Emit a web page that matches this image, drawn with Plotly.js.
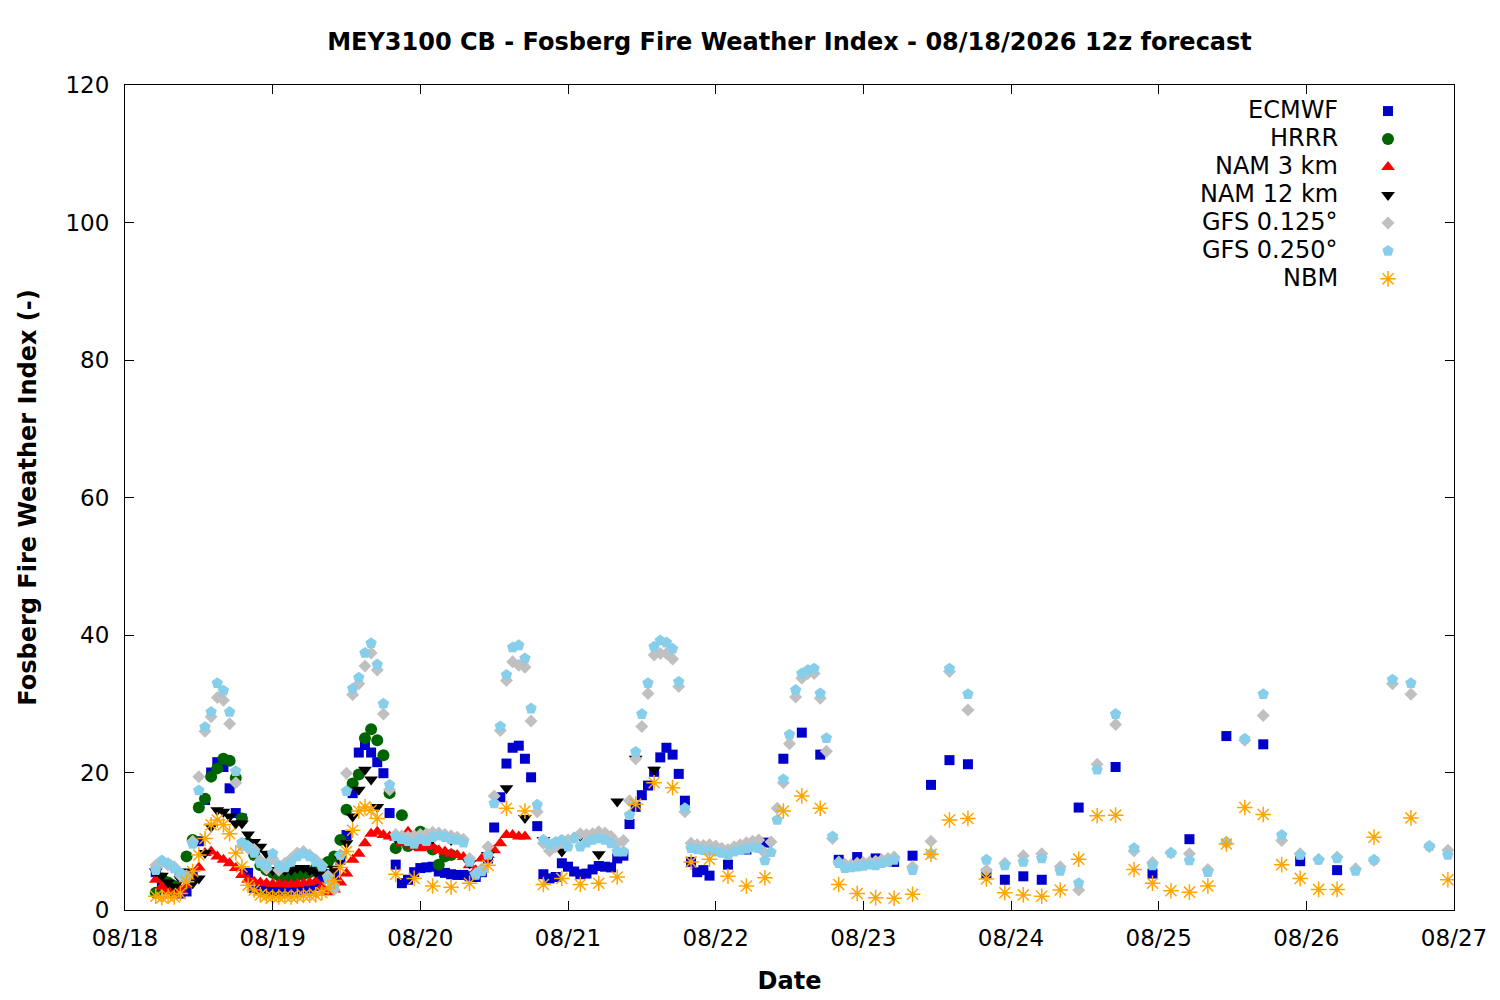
<!DOCTYPE html>
<html>
<head>
<meta charset="utf-8">
<script src="https://cdn.plot.ly/plotly-3.0.1.min.js"></script>
<style>
  html, body { margin: 0; padding: 0; background: #fff; }
  #plot { width: 1500px; height: 1000px; }
</style>
</head>
<body>
<div id="plot"></div>
<script>
// hours are local hours since 08/18 00:00 (12z run = 05 local)
function span(a, b, step) {
  const out = []
  for (let h = a; h <= b; h += step) out.push(h)
  return out
}

const ecmwfHours = span(5, 95, 1).concat(span(98, 149, 3), span(155, 197, 6))
const ecmwfValues = [
  5.5, 4.0, 3.0, 2.5, 2.4, 2.7, 5.0, 10.0, 16.0, 20.0, 21.5, 20.8,
  17.7, 14.1, 13.3, 5.4, 3.2, 3.0, 2.9, 2.8, 2.8, 2.8, 2.9, 2.9,
  3.0, 3.1, 3.5, 4.6, 5.0, 5.1, 7.3, 10.9, 17.0, 22.9, 24.0, 22.9,
  21.5, 19.9, 14.1, 6.6, 3.9, 4.4, 5.5, 6.1, 6.2, 6.3, 5.6, 5.4,
  5.2, 5.1, 5.1, 4.9, 4.8, 5.5, 7.5, 12.0, 16.4, 21.3, 23.6, 23.9,
  22.0, 19.3, 12.2, 5.2, 4.6, 4.8, 6.8, 6.3, 5.6, 5.2, 5.3, 5.9,
  6.4, 6.3, 6.2, 7.5, 7.9, 12.5, 15.0, 16.7, 18.1, 20.1, 22.2, 23.6,
  22.6, 19.8, 15.9, 7.0, 5.5, 5.8, 5.0,
  // 3-hourly
  6.6, 8.8, 9.8, 22.0, 25.8, 22.6, 7.3, 7.7, 7.5, 7.0, 7.9, 18.2,
  21.8, 21.2, 5.3, 4.4, 4.9, 4.4,
  // 6-hourly
  14.9, 20.8, 5.3, 10.3, 25.3, 24.1, 7.1, 5.8
]

const hrrrHours = span(5, 53, 1)
const hrrrValues = [
  2.5, 4.6, 4.0, 3.5, 5.0, 7.8, 10.2, 14.9, 16.2, 19.4, 20.6, 22.0,
  21.7, 19.2, 13.3, 9.7, 8.0, 6.5, 5.8, 5.4, 5.0, 4.8, 4.8, 5.0,
  5.2, 5.5, 6.0, 6.6, 7.0, 7.8, 10.2, 14.6, 18.4, 19.7, 25.0, 26.3,
  24.7, 22.5, 17.0, 9.0, 13.8, 9.3, 9.8, 11.4, 10.8, 8.8, 6.6, 7.8,
  8.0
]

const nam3Hours = span(5, 65, 1)
const nam3Values = [
  4.4, 3.4, 3.0, 2.8, 3.0, 3.6, 4.8, 6.2, 8.3, 8.5, 7.8, 7.3,
  6.8, 6.1, 5.1, 4.4, 4.1, 4.0, 3.9, 3.8, 3.8, 3.7, 3.7, 3.8,
  3.9, 4.0, 4.2, 3.4, 2.6, 3.0, 4.0, 5.3, 7.3, 8.2, 9.7, 11.1,
  11.4, 10.9, 10.7, 10.5, 9.7, 11.4, 9.2, 9.0, 9.2, 9.2, 8.7, 8.5,
  8.2, 8.0, 7.7, 6.5, 5.8, 7.5, 8.0, 8.7, 9.7, 10.9, 10.9, 10.7,
  10.7
]

const nam12Hours = span(5, 41, 1).concat(span(44, 86, 3))
const nam12Values = [
  5.6, 5.0, 4.0, 3.4, 4.5, 5.6, 3.9, 4.6, 8.3, 12.1, 14.5, 14.3,
  13.6, 12.6, 12.6, 11.0, 9.9, 9.2, 8.2, 5.8, 5.8, 5.8, 5.8, 6.1,
  6.1, 5.8, 5.5, 5.5, 5.5, 6.0, 7.5, 9.7, 13.6, 17.5, 20.4, 19.0,
  15.0,
  // 3-hourly
  10.5, 9.6, 10.4, 10.2, 6.8, 8.0, 17.7, 13.4, 10.2, 8.5, 10.8, 8.1,
  15.8, 22.0, 20.4
]

const gfsHours = span(5, 125, 1).concat(span(128, 215, 3))
const gfs0125Values = [
  6.5, 7.0, 6.5, 6.3, 5.0, 5.0, 10.0, 19.4, 26.0, 28.1, 30.9, 30.5,
  27.1, 18.5, 9.3, 9.0, 8.8, 7.2, 6.0, 7.5, 5.8, 6.8, 7.5, 8.3,
  8.5, 8.0, 7.3, 6.5, 5.0, 3.0, 8.0, 19.9, 31.3, 32.9, 35.5, 37.4,
  34.9, 28.5, 17.5, 11.0, 10.8, 10.7, 10.8, 11.0, 11.1, 11.3, 11.2, 11.0,
  10.8, 10.6, 10.3, 7.5, 5.3, 6.0, 9.2, 16.6, 26.1, 33.4, 36.1, 35.6,
  35.3, 27.5, 14.3, 9.7, 8.6, 9.2, 9.9, 10.2, 10.5, 11.1, 11.0, 11.1,
  11.4, 11.2, 10.7, 9.7, 10.1, 15.9, 22.0, 26.7, 31.5, 37.1, 37.3, 37.3,
  36.5, 32.5, 14.3, 9.7, 9.5, 9.4, 9.5, 9.3, 9.0, 8.8, 9.2, 9.5,
  9.8, 10.0, 10.2, 8.3, 9.9, 14.8, 18.5, 24.2, 31.0, 33.7, 34.4, 34.4,
  30.8, 23.1, 10.4, 7.0, 6.7, 6.6, 6.8, 6.9, 7.0, 7.1, 7.3, 7.5,
  7.7,
  // 3-hourly
  6.3, 10.0, 34.7, 29.1, 5.8, 6.8, 7.9, 8.2, 6.3, 2.9, 21.2, 27.0,
  8.6, 6.9, 8.3, 8.2, 5.9, 9.8, 24.7, 28.3, 10.1, 8.2, 7.4, 7.7,
  6.0, 7.2, 32.9, 31.4, 9.2, 8.7
]
const gfs0250Values = [
  5.8, 7.2, 6.8, 6.0, 5.4, 4.6, 9.6, 17.4, 26.6, 28.8, 33.0, 31.9,
  28.8, 20.2, 9.8, 9.3, 8.3, 6.8, 6.5, 8.2, 6.5, 6.2, 7.0, 7.8,
  8.2, 7.8, 7.0, 6.3, 4.6, 3.5, 8.0, 17.3, 32.2, 33.8, 37.4, 38.8,
  35.7, 30.0, 18.2, 10.7, 10.3, 10.0, 9.6, 10.3, 10.0, 10.6, 10.8, 10.6,
  10.3, 10.2, 9.8, 7.0, 5.1, 5.6, 8.0, 15.5, 26.7, 34.2, 38.2, 38.5,
  36.6, 29.3, 15.3, 10.2, 9.5, 9.9, 10.2, 9.2, 10.4, 9.2, 9.8, 10.2,
  10.4, 10.2, 9.7, 8.5, 8.5, 13.8, 23.0, 28.5, 33.0, 38.3, 39.2, 38.9,
  38.0, 33.2, 14.8, 9.0, 8.8, 8.7, 8.6, 8.5, 8.3, 8.0, 8.5, 8.7,
  8.9, 9.1, 9.0, 7.2, 8.4, 13.1, 19.0, 25.5, 32.0, 34.4, 34.9, 35.1,
  31.5, 25.0, 10.7, 6.8, 6.1, 6.2, 6.3, 6.4, 6.6, 6.5, 6.8, 7.0,
  7.3,
  // 3-hourly
  5.8, 8.2, 35.1, 31.4, 7.3, 6.5, 7.0, 7.5, 5.7, 3.9, 20.4, 28.5,
  9.0, 6.5, 8.3, 7.2, 5.5, 9.9, 24.9, 31.4, 10.9, 8.0, 7.3, 7.5,
  5.7, 7.3, 33.5, 33.0, 9.3, 8.0
]

const nbmHours = span(5, 41, 1).concat(span(44, 197, 3), span(203, 215, 6))
const nbmValues = [
  2.0, 1.8, 2.0, 1.9, 2.4, 4.1, 5.6, 8.0, 10.4, 12.4, 13.1, 12.4,
  11.1, 8.3, 6.3, 3.6, 2.9, 2.2, 2.0, 1.9, 1.9, 2.0, 1.9, 2.0,
  2.1, 2.1, 2.2, 2.5, 3.2, 4.3, 6.2, 8.5, 11.6, 14.4, 15.0, 14.5,
  13.3,
  // 3-hourly
  5.2, 4.6, 3.5, 3.3, 3.9, 6.5, 14.8, 14.4, 3.7, 4.6, 3.7, 3.9,
  4.8, 15.4, 18.5, 17.8, 7.0, 7.4, 4.9, 3.5, 4.7, 14.4, 16.6, 14.8,
  3.7, 2.4, 1.8, 1.7, 2.3, 8.1, 13.1, 13.3, 4.5, 2.5, 2.2, 2.0,
  2.9, 7.4, 13.7, 13.8, 5.9, 3.9, 2.8, 2.6, 3.5, 9.6, 14.9, 13.9,
  6.6, 4.6, 3.0, 3.0,
  // 6-hourly
  10.6, 13.4, 4.4
]

const seriesNames = ['ECMWF', 'HRRR', 'NAM 3 km', 'NAM 12 km', 'GFS 0.125°', 'GFS 0.250°', 'NBM']

function toDate(h) {
  const day = 18 + Math.floor(h / 24)
  const hr = h % 24
  return '2026-08-' + day + ' ' + String(hr).padStart(2, '0') + ':00'
}

function series(name, hours, values, marker) {
  return {
    x: hours.map(toDate),
    y: values,
    type: 'scatter',
    mode: 'markers',
    name: ' ',
    hovertext: name,
    marker: marker
  }
}

const data = [
  series(seriesNames[0], ecmwfHours, ecmwfValues, {symbol: 'square', size: 10, color: '#0000cc'}),
  series(seriesNames[1], hrrrHours, hrrrValues, {symbol: 'circle', size: 12, color: '#006400'}),
  series(seriesNames[2], nam3Hours, nam3Values, {symbol: 'triangle-up', size: 12, color: '#ff0000'}),
  series(seriesNames[3], nam12Hours, nam12Values, {symbol: 'triangle-down', size: 12, color: '#000000'}),
  series(seriesNames[4], gfsHours, gfs0125Values, {symbol: 'diamond', size: 10, color: '#c0c0c0'}),
  series(seriesNames[5], gfsHours, gfs0250Values, {symbol: 'pentagon', size: 12, color: '#87ceeb'}),
  series(seriesNames[6], nbmHours, nbmValues, {symbol: 'asterisk-open', size: 13, color: '#ffa500',
    line: {color: '#ffa500', width: 1.5}})
]

const font = 'DejaVu Sans, sans-serif'

// legend labels drawn right-aligned, symbols come from the legend itself
const rowY = [0.9697, 0.9358, 0.9018, 0.8679, 0.8339, 0.8, 0.766]
const annotations = seriesNames.map((n, i) => ({
  text: n, xref: 'paper', yref: 'paper', x: 0.9143, y: rowY[i],
  xanchor: 'right', yanchor: 'middle', showarrow: false,
  font: {family: font, size: 24, color: '#000'}
}))

const layout = {
  width: 1500,
  height: 1000,
  margin: {l: 125, r: 46, t: 85, b: 90},
  paper_bgcolor: '#fff',
  plot_bgcolor: '#fff',
  font: {family: font, size: 23, color: '#000'},
  title: {
    text: '<b>MEY3100 CB - Fosberg Fire Weather Index - 08/18/2026 12z forecast</b>',
    font: {family: font, size: 24, color: '#000'},
    x: 0.5, xref: 'paper', y: 0.958, yref: 'container', yanchor: 'middle'
  },
  xaxis: {
    type: 'date',
    range: ['2026-08-18 00:00', '2026-08-27 00:00'],
    tick0: '2026-08-18 00:00',
    dtick: 86400000,
    tickformat: '%m/%d',
    ticks: 'inside', ticklen: 9, tickcolor: '#000',
    showline: true, linecolor: '#000', linewidth: 1, mirror: 'ticks',
    showgrid: false, zeroline: false,
    ticklabelstandoff: 7,
    title: {text: '<b>Date</b>', font: {family: font, size: 24}, standoff: 22}
  },
  yaxis: {
    range: [0, 120],
    dtick: 20,
    ticks: 'inside', ticklen: 9, tickcolor: '#000',
    showline: true, linecolor: '#000', linewidth: 1, mirror: 'ticks',
    showgrid: false, zeroline: false,
    ticklabelstandoff: 10,
    title: {text: '<b>Fosberg Fire Weather Index (-)</b>', font: {family: font, size: 24}, standoff: 22}
  },
  showlegend: true,
  legend: {
    x: 0.9353, xanchor: 'left', y: 0.9914, yanchor: 'top',
    bgcolor: 'rgba(0,0,0,0)', borderwidth: 0,
    font: {family: font, size: 19.2},
    tracegroupgap: 0
  },
  annotations: annotations
}

Plotly.newPlot('plot', data, layout, {staticPlot: true})
</script>
</body>
</html>
